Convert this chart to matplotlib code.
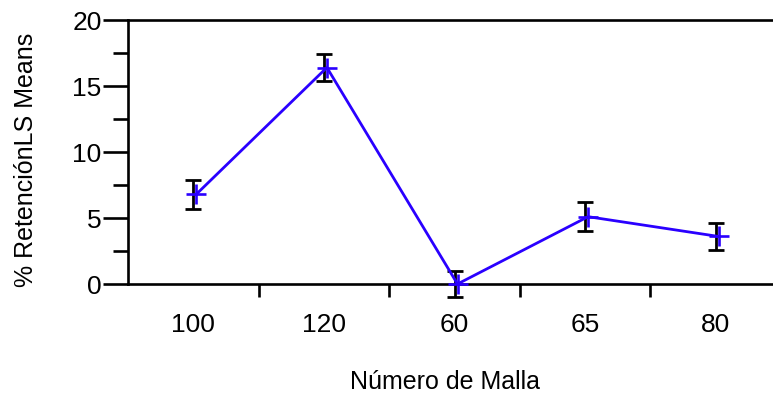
import matplotlib
matplotlib.use("Agg")
import matplotlib.pyplot as plt
import matplotlib.transforms as mtransforms
import numpy as np

plt.rcParams['font.family'] = ['Liberation Sans', 'DejaVu Sans']

categories = ["100", "120", "60", "65", "80"]
means = [6.8, 16.4, 0.0, 5.1, 3.6]
errors = [1.1, 1.0, 1.0, 1.1, 1.0]
y_ticks = [0, 5, 10, 15, 20]

fig = plt.figure(figsize=(7.73, 4.19), dpi=100)
ax = fig.add_axes([128 / 773, 135 / 419, 653 / 773, 264 / 419])

x = np.arange(len(categories))

ax.errorbar(x, means, yerr=errors, fmt='none', ecolor='black',
            elinewidth=2.0, capsize=5.5, capthick=2.0, clip_on=False, zorder=2)

shift = mtransforms.ScaledTranslation(3 / 100, 0, fig.dpi_scale_trans)
ax.plot(x, means, color='#2a00ff', lw=2.0, marker='+', markersize=14,
        markeredgewidth=1.9, transform=ax.transData + shift,
        clip_on=False, zorder=3)

ax.set_xlim(-0.5, len(categories) - 0.5)
ax.set_ylim(0, 20)

for side in ['top', 'left', 'bottom', 'right']:
    ax.spines[side].set_linewidth(1.9)

# Category labels centred without tick marks; boundary ticks between them
ax.set_xticks(x)
ax.set_xticklabels(categories, fontsize=19)
ax.tick_params(axis='x', which='major', length=0, pad=21)
ax.set_xticks(x[:-1] + 0.5, minor=True)
ax.tick_params(axis='x', which='minor', length=9, width=1.9, direction='out')

ax.set_yticks(y_ticks)
ax.set_yticklabels([str(v) for v in y_ticks], fontsize=19)
ax.set_yticks([2.5, 7.5, 12.5, 17.5], minor=True)
ax.tick_params(axis='y', which='major', length=18, width=1.9, pad=1)
ax.tick_params(axis='y', which='minor', length=11, width=1.9)

ax.set_ylabel('% RetenciónLS Means', fontsize=18)
ax.yaxis.set_label_coords(-(128 - 38) / 653, 0.47)
fig.text(445 / 773, 1 - 382 / 419, 'Número de Malla', fontsize=18,
         ha='center', va='center')

fig.savefig('out.png', dpi=100)
